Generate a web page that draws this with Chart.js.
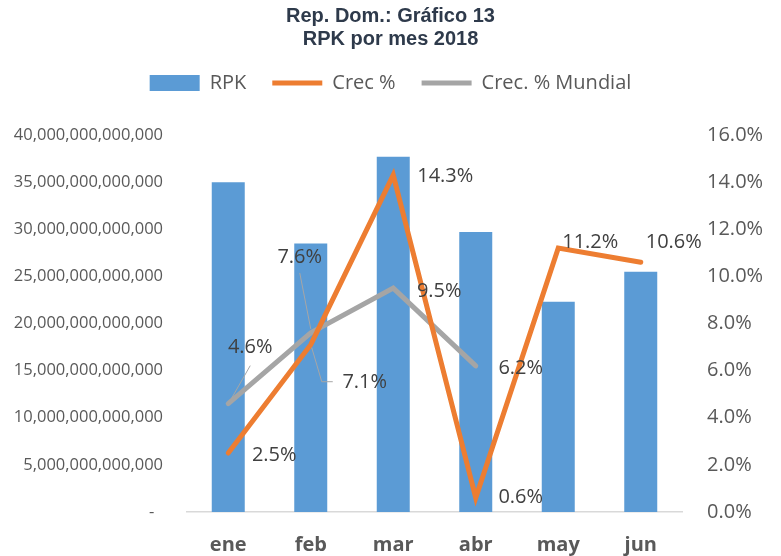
<!DOCTYPE html>
<html>
<head>
<meta charset="utf-8">
<script src="https://cdn.jsdelivr.net/npm/chart.js@4/dist/chart.umd.min.js"></script>
<style>
  body { margin: 0; background: #fff; }
  #wrap { width: 781px; height: 556px; }
</style>
</head>
<body>
<div id="wrap"><canvas id="chart" width="781" height="556"></canvas></div>
<script>
// data
const months = ['ene', 'feb', 'mar', 'abr', 'may', 'jun'];
const rpk = [35.0e12, 28.5e12, 37.7e12, 29.7e12, 22.3e12, 25.5e12];
const crec = [2.5, 7.1, 14.3, 0.6, 11.2, 10.6];
const crecMundial = [4.6, 7.6, 9.5, 6.2, null, null];
const rpkTicks = { min: 0, max: 40e12, step: 5e12 };
const pctTicks = { min: 0, max: 16, step: 2 };

// label placement (pixel offsets from the point) and leader lines
const labelPos = {
  1: [[46, 2], [54, 38], [52, 1], [45, -1], [32, -6], [33, -20]],
  2: [[22, -56], [-11, -76], [46, 3], [45, 2], null, null]
};
const leaders = {
  '2-0': [[22, -38], [2, -3]],
  '2-1': [[-11, -60], [0, -4]],
  '1-1': [[22, 37], [11, 37], [1, 3]]
};

const LEFT = 187, RIGHT = 682, XAXIS_H = 44, LEGEND_H = 88;
const textGray = '#595959';

const pctLabels = {
  id: 'pctLabels',
  afterInit(chart) {
    // fix legend box height so the plot area starts where the reference does
    const fit = chart.legend.fit;
    chart.legend.fit = function () {
      fit.call(this);
      this.height = LEGEND_H;
    };
  },
  afterDatasetsDraw(chart) {
    const ctx = chart.ctx;
    ctx.save();
    ctx.font = '20px "Open Sans"';
    ctx.fillStyle = '#404040';
    ctx.textAlign = 'center';
    ctx.textBaseline = 'middle';
    [1, 2].forEach(di => {
      const meta = chart.getDatasetMeta(di);
      const vals = chart.data.datasets[di].data;
      meta.data.forEach((pt, i) => {
        const off = labelPos[di][i];
        if (vals[i] == null || !off) return;
        const lead = leaders[di + '-' + i];
        if (lead) {
          ctx.beginPath();
          ctx.strokeStyle = '#A6A6A6';
          ctx.lineWidth = 1;
          lead.forEach((p, k) => {
            if (k === 0) ctx.moveTo(pt.x + p[0], pt.y + p[1]);
            else ctx.lineTo(pt.x + p[0], pt.y + p[1]);
          });
          ctx.stroke();
        }
        ctx.fillText(vals[i].toFixed(1) + '%', pt.x + off[0], pt.y + off[1]);
      });
    });
    ctx.restore();
  }
};

new Chart(document.getElementById('chart'), {
  data: {
    labels: months,
    datasets: [
      {
        type: 'bar',
        label: 'RPK',
        data: rpk,
        yAxisID: 'y',
        backgroundColor: '#5B9BD5',
        borderWidth: 0,
        barPercentage: 0.4,
        categoryPercentage: 1,
        order: 3,
        pointStyle: 'rect'
      },
      {
        type: 'line',
        label: 'Crec %',
        data: crec,
        yAxisID: 'y1',
        borderColor: '#ED7D31',
        backgroundColor: '#ED7D31',
        borderWidth: 5,
        borderCapStyle: 'round',
        pointRadius: 0,
        tension: 0,
        order: 1,
        pointStyle: 'line'
      },
      {
        type: 'line',
        label: 'Crec. % Mundial',
        data: crecMundial,
        yAxisID: 'y1',
        borderColor: '#A5A5A5',
        backgroundColor: '#A5A5A5',
        borderWidth: 5,
        borderCapStyle: 'round',
        pointRadius: 0,
        tension: 0,
        spanGaps: false,
        order: 2,
        pointStyle: 'line'
      }
    ]
  },
  options: {
    responsive: false,
    animation: false,
    devicePixelRatio: 1,
    layout: { padding: 0 },
    plugins: {
      tooltip: { enabled: false },
      title: {
        display: true,
        text: ['Rep. Dom.: Gráfico 13', 'RPK por mes 2018'],
        color: '#2E3A4B',
        font: { family: '"Liberation Sans", Arial', size: 20, weight: 'bold', lineHeight: 1.15 },
        padding: { top: 5, bottom: -4 }
      },
      legend: {
        position: 'top',
        labels: {
          usePointStyle: true,
          pointStyleWidth: 50,
          boxHeight: 16,
          padding: 26,
          color: textGray,
          font: { family: '"Open Sans"', size: 20 },
          sort: (a, b) => a.datasetIndex - b.datasetIndex
        }
      }
    },
    scales: {
      x: {
        grid: { display: false },
        border: { display: true, color: '#D9D9D9', width: 1.5 },
        afterFit(scale) { scale.height = XAXIS_H; },
        ticks: {
          color: textGray,
          padding: 13,
          font: { family: '"Open Sans"', size: 20, weight: 'bold' }
        }
      },
      y: {
        position: 'left',
        min: rpkTicks.min,
        max: rpkTicks.max,
        grid: { display: false },
        border: { display: false },
        afterFit(scale) { scale.width = LEFT; },
        ticks: {
          stepSize: rpkTicks.step,
          color: textGray,
          padding: 16,
          font: { family: '"Open Sans"', size: 16.5 },
          callback: v => v === 0 ? '-  ' : Number(v).toLocaleString('en-US')
        }
      },
      y1: {
        position: 'right',
        min: pctTicks.min,
        max: pctTicks.max,
        grid: { display: false },
        border: { display: false },
        afterFit(scale) { scale.width = 781 - RIGHT; },
        ticks: {
          stepSize: pctTicks.step,
          color: textGray,
          padding: 17,
          font: { family: '"Open Sans"', size: 20 },
          callback: v => Number(v).toFixed(1) + '%'
        }
      }
    }
  },
  plugins: [pctLabels]
});
</script>
</body>
</html>
